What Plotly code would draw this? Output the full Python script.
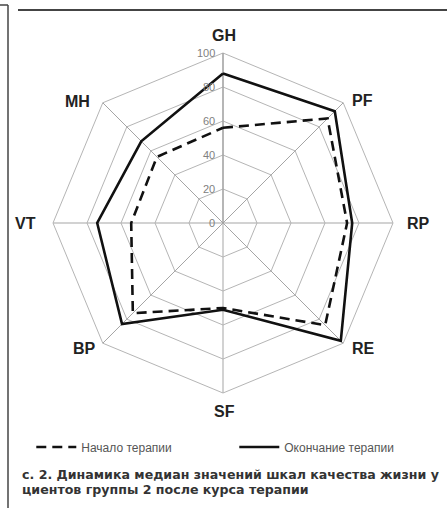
import plotly.graph_objects as go

categories = ["GH", "PF", "RP", "RE", "SF", "BP", "VT", "MH"]
start_values = [56, 87, 73, 85, 50, 75, 54, 55]
end_values = [88, 93, 76, 98, 51, 84, 74, 68]
radial_ticks = [0, 20, 40, 60, 80, 100]
series_names = ["Начало терапии", "Окончание терапии"]
caption_lines = [
    "с. 2. Динамика медиан значений шкал качества жизни у",
    "циентов группы 2 после курса терапии",
]

W, H = 447, 508
R_MAX = 100

def close(v):
    return list(v) + [v[0]]

fig = go.Figure()
fig.add_trace(go.Scatterpolar(
    r=close(start_values), theta=close(categories), mode="lines",
    name=series_names[0],
    line=dict(color="#111111", width=2.6, dash="10px,6px"),
))
fig.add_trace(go.Scatterpolar(
    r=close(end_values), theta=close(categories), mode="lines",
    name=series_names[1],
    line=dict(color="#111111", width=2.6),
))

cx, cy, R = 223, 223, 170
fig.update_layout(
    width=W, height=H,
    margin=dict(l=0, r=0, t=0, b=0),
    paper_bgcolor="white",
    plot_bgcolor="white",
    polar=dict(
        domain=dict(x=[(cx - R) / W, (cx + R) / W],
                    y=[1 - (cy + R) / H, 1 - (cy - R) / H]),
        bgcolor="white",
        gridshape="linear",
        radialaxis=dict(
            range=[0, R_MAX], tickvals=radial_ticks, angle=90,
            showticklabels=False,
            showline=True, linecolor="#9a9a9a", linewidth=1,
            gridcolor="#b5b5b5", gridwidth=1,
            ticks="",
            layer="below traces",
        ),
        angularaxis=dict(
            categoryarray=categories, categoryorder="array",
            rotation=90, direction="clockwise",
            showline=True, linecolor="#b5b5b5", linewidth=1,
            gridcolor="#a5a5a5", gridwidth=1,
            ticks="", showticklabels=False,
            layer="below traces",
        ),
    ),
    legend=dict(
        orientation="h", x=0.07, y=1 - 447 / H, xanchor="left", yanchor="middle",
        font=dict(family="Liberation Sans", size=12, color="#555555"),
        itemwidth=40, entrywidth=148, traceorder="normal",
    ),
    showlegend=True,
)

# radial tick labels, left of the GH spoke, at each ring's height
for v in radial_ticks:
    fig.add_annotation(
        text=str(v), xref="paper", yref="paper",
        x=(cx - 6) / W, y=1 - (cy - R * v / R_MAX) / H,
        xanchor="right", yanchor="middle", showarrow=False,
        font=dict(family="Liberation Sans", size=11, color="#808080"),
    )

# axis labels placed just outside the outer ring
label_pos = {
    "GH": (224, 36), "PF": (362, 101), "RP": (418, 223), "RE": (363, 348),
    "SF": (224, 411), "BP": (84, 348), "VT": (25, 223), "MH": (77, 102),
}
for cat in categories:
    px, py = label_pos[cat]
    fig.add_annotation(
        text="<b>" + cat + "</b>", xref="paper", yref="paper",
        x=px / W, y=1 - py / H, xanchor="center", yanchor="middle",
        showarrow=False,
        font=dict(family="Liberation Sans", size=16, color="#222222"),
    )

for i, line in enumerate(caption_lines):
    fig.add_annotation(
        text="<b>" + line + "</b>", xref="paper", yref="paper",
        x=20 / W, y=1 - (474 + i * 15) / H, xanchor="left", yanchor="middle",
        showarrow=False,
        font=dict(family="DejaVu Sans", size=12.6, color="#333333"),
    )

# frame lines
fig.add_shape(type="line", xref="paper", yref="paper",
              x0=8 / W, x1=8 / W, y0=0, y1=1 - 5 / H,
              line=dict(color="#444444", width=1.5))
fig.add_shape(type="line", xref="paper", yref="paper",
              x0=0, x1=8 / W, y0=1 - 5 / H, y1=1 - 5 / H,
              line=dict(color="#444444", width=1.5))
fig.add_shape(type="line", xref="paper", yref="paper",
              x0=18 / W, x1=1, y0=1 - 10 / H, y1=1 - 10 / H,
              line=dict(color="#444444", width=2))

fig.write_html("out.html", config={"displayModeBar": False},
               post_script="document.body.style.margin='0px';document.body.style.overflow='hidden';")
